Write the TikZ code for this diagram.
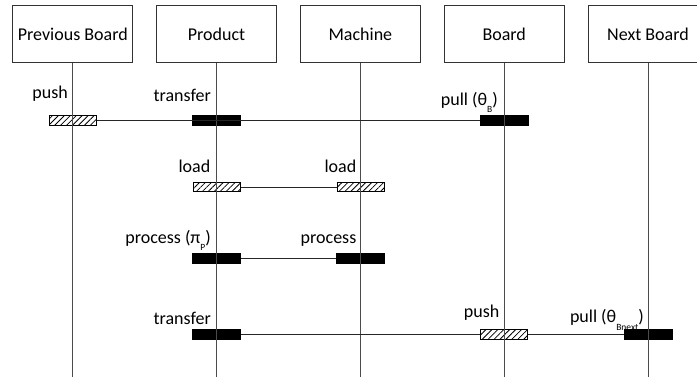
\documentclass[tikz,border=0pt]{standalone}
\usepackage{fontspec}
\setmainfont{Carlito}
\usetikzlibrary{patterns.meta}
\tikzset{
  head/.style={draw=black!80, line width=0.8pt, minimum width=120pt, minimum height=57pt, inner sep=0pt, font=\fontsize{18}{20}\selectfont},
  life/.style={draw=black!70, line width=0.9pt},
  msg/.style={draw=black!85, line width=0.8pt},
  solidbar/.style={fill=black, draw=black, line width=0.5pt, minimum width=48pt, minimum height=10pt, inner sep=0pt},
  hatchbar/.style={draw=black, line width=0.8pt, fill=white, minimum width=47pt, minimum height=9.5pt, inner sep=0pt,
     postaction={pattern={Lines[angle=45,distance=4.2pt,line width=0.8pt]}}},
  lbl/.style={anchor=base east, inner sep=0pt, font=\fontsize{18}{20}\selectfont},
}
\newcommand{\subtxt}[1]{\raisebox{-0.42em}{\fontsize{9.5}{9.5}\selectfont #1}}
\begin{document}
\begin{tikzpicture}[x=1pt,y=-1pt]
\path[use as bounding box, clip] (0,0) rectangle (697,376);
% headers
\node[head] (pb) at (72.8,34.3) {Previous Board};
\node[head] (pr) at (216.6,34.3) {Product};
\node[head] (ma) at (360.4,34.3) {Machine};
\node[head] (bo) at (504.2,34.3) {Board};
\node[head] (nb) at (648.0,34.3) {Next Board};
% lifeline ends
\coordinate (pbe) at (72.8,380);
\coordinate (pre) at (216.6,380);
\coordinate (mae) at (360.4,380);
\coordinate (boe) at (504.2,380);
\coordinate (nbe) at (648.0,380);
% bars
\node[hatchbar] (b1pb) at (72.8,120.5) {};
\node[solidbar] (b1pr) at (216.6,120.5) {};
\node[solidbar] (b1bo) at (504.2,120.5) {};
\node[hatchbar] (b2pr) at (216.6,187) {};
\node[hatchbar] (b2ma) at (360.4,187) {};
\node[solidbar] (b3pr) at (216.6,258.5) {};
\node[solidbar] (b3ma) at (360.4,258.5) {};
\node[solidbar] (b4pr) at (216.6,334.5) {};
\node[hatchbar] (b4bo) at (504.2,334.5) {};
\node[solidbar] (b4nb) at (648.0,334.5) {};
% lifelines
\draw[life] (pb.south) -- (pbe);
\draw[life] (pr.south) -- (pre);
\draw[life] (ma.south) -- (mae);
\draw[life] (bo.south) -- (boe);
\draw[life] (nb.south) -- (nbe);
% messages
\draw[msg] (b1pb.east) -- (b1bo.west);
\draw[msg] (b2pr.east) -- (b2ma.west);
\draw[msg] (b3pr.east) -- (b3ma.west);
\draw[msg] (b4pr.east) -- (b4bo.west);
\draw[msg] (b4bo.east) -- (b4nb.west);
% labels
\node[lbl] (l1a) at (68,98) {push};
\node[lbl] (l1b) at (211,101.5) {transfer};
\node[lbl] (l1c) at (498,105) {pull (θ\subtxt{B})};
\node[lbl] (l2a) at (210.5,172.5) {load};
\node[lbl] (l2b) at (356.5,172.5) {load};
\node[lbl] (l3a) at (211,243) {process (π\subtxt{P})};
\node[lbl] (l3b) at (356.5,243) {process};
\node[lbl] (l4a) at (211,324) {transfer};
\node[lbl] (l4b) at (499.5,317.5) {push};
\node[lbl] (l4c) at (644,322.5) {pull (θ\subtxt{Bnext})};
\end{tikzpicture}
\end{document}
